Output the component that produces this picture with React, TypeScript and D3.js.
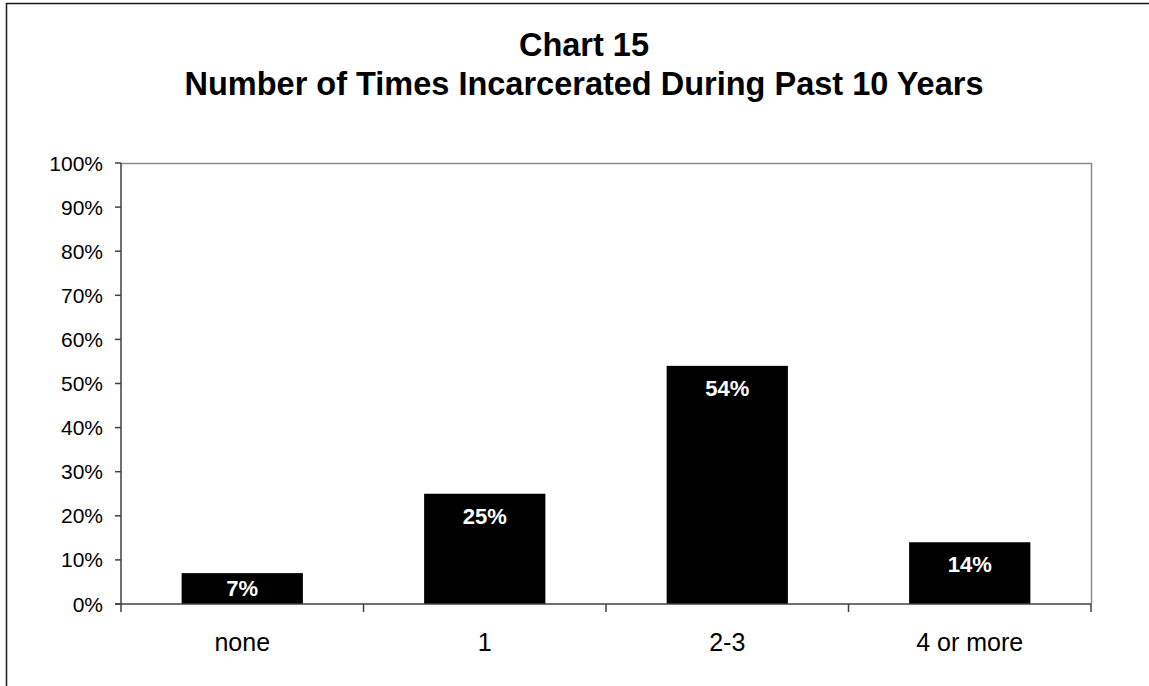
import React from "react";
import * as d3 from "d3";

// Share of respondents by number of times incarcerated in the past 10 years
const categories: string[] = ["none", "1", "2-3", "4 or more"];
const shares: number[] = [0.07, 0.25, 0.54, 0.14];
const yTicks: number[] = [0, 0.1, 0.2, 0.3, 0.4, 0.5, 0.6, 0.7, 0.8, 0.9, 1.0];
const titleLines: string[] = ["Chart 15", "Number of Times Incarcerated During Past 10 Years"];

const W = 1149;
const H = 686;
const plot = { left: 121, right: 1091, top: 163, bottom: 604 };
const FONT = "'Liberation Sans', Arial, Helvetica, sans-serif";

export default function App() {
  const x = d3
    .scaleBand<string>()
    .domain(categories)
    .range([plot.left, plot.right])
    .paddingInner(0.5)
    .paddingOuter(0.25);
  const y = d3.scaleLinear().domain([0, 1]).range([plot.bottom, plot.top]);
  const pct = d3.format(".0%");

  // category boundaries for the tick marks on the x axis
  const step = (plot.right - plot.left) / categories.length;
  const catTicks = d3.range(categories.length + 1).map((i) => plot.left + i * step);

  return (
    <svg
      width={W}
      height={H}
      style={{ position: "absolute", left: 0, top: 0, background: "#fff" }}
      fontFamily={FONT}
    >
      {/* chart area frame */}
      <rect x={6.5} y={3.5} width={1200} height={800} fill="#fff" stroke="#1a1a1a" strokeWidth={1.5} />

      {/* title */}
      {titleLines.map((t, i) => (
        <text
          key={t}
          x={584}
          y={56 + i * 39}
          textAnchor="middle"
          fontSize={32.5}
          fontWeight="bold"
          fill="#000"
        >
          {t}
        </text>
      ))}

      {/* plot area border (top and right) */}
      <path
        d={`M${plot.left},${plot.top + 0.5}H${plot.right + 0.5}V${plot.bottom}`}
        fill="none"
        stroke="#8a8a8a"
        strokeWidth={1.5}
      />

      {/* bars */}
      {categories.map((c, i) => {
        const top = y(shares[i]);
        return (
          <rect
            key={c}
            x={x(c)}
            y={top}
            width={x.bandwidth()}
            height={plot.bottom - top}
            fill="#000"
          />
        );
      })}

      {/* value labels */}
      {categories.map((c, i) => {
        const top = y(shares[i]);
        const cy = Math.min(top + 22, (top + plot.bottom) / 2);
        return (
          <text
            key={c}
            x={(x(c) ?? 0) + x.bandwidth() / 2}
            y={cy}
            dy="0.36em"
            textAnchor="middle"
            fontSize={22}
            fontWeight="bold"
            fill="#fff"
          >
            {pct(shares[i])}
          </text>
        );
      })}

      {/* y axis */}
      <line x1={plot.left} x2={plot.left} y1={plot.top} y2={plot.bottom} stroke="#404040" strokeWidth={1.5} />
      {yTicks.map((t) => (
        <g key={t}>
          <line x1={plot.left - 6} x2={plot.left} y1={y(t)} y2={y(t)} stroke="#404040" strokeWidth={1.5} />
          <text x={103} y={y(t)} dy="0.36em" textAnchor="end" fontSize={21} fill="#000">
            {pct(t)}
          </text>
        </g>
      ))}

      {/* x axis */}
      <line x1={plot.left - 6} x2={plot.right} y1={plot.bottom} y2={plot.bottom} stroke="#404040" strokeWidth={1.5} />
      {catTicks.map((tx, i) => (
        <line key={i} x1={tx} x2={tx} y1={plot.bottom} y2={plot.bottom + 8} stroke="#404040" strokeWidth={1.5} />
      ))}
      {categories.map((c) => (
        <text
          key={c}
          x={(x(c) ?? 0) + x.bandwidth() / 2}
          y={651}
          textAnchor="middle"
          fontSize={25}
          fill="#000"
        >
          {c}
        </text>
      ))}
    </svg>
  );
}
